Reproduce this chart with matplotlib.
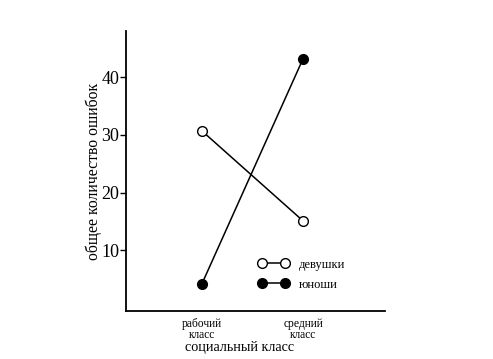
import matplotlib.pyplot as plt

# --- data ---
categories = ["рабочий\nкласс", "средний\nкласс"]
girls = [30.7, 15.1]
boys = [4.2, 43.2]
y_ticks = [10, 20, 30, 40]

plt.rcParams["font.family"] = ["Liberation Serif", "DejaVu Serif"]

fig = plt.figure(figsize=(4.93, 3.59), dpi=100)
ax = fig.add_axes([0.2556, 0.1337, 0.5254, 0.78])

x = list(range(len(categories)))
ax.plot(x, girls, color="black", linewidth=1.1, marker="o", markersize=7,
        markerfacecolor="white", markeredgecolor="black", markeredgewidth=1.0,
        label="девушки")
ax.plot(x, boys, color="black", linewidth=1.1, marker="o", markersize=7,
        markerfacecolor="black", markeredgecolor="black", label="юноши")

ax.set_xlim(-0.75, 1.81)
ax.set_ylim(-0.5, 48)
ax.set_xticks(x)
ax.set_xticklabels(categories, fontsize=8.3, linespacing=0.95)
ax.set_yticks(y_ticks)
ax.tick_params(axis="y", direction="out", length=4, width=1, labelsize=13, pad=1)
ax.tick_params(axis="x", length=0, pad=5)

for side in ["top", "right"]:
    ax.spines[side].set_visible(False)
for side in ["left", "bottom"]:
    ax.spines[side].set_linewidth(1.3)

# x label sits a bit left of the axes centre in the original
ax.set_xlabel("социальный класс", fontsize=10.2, va="center")
ax.xaxis.set_label_coords(0.44, -0.129)
ax.set_ylabel("общее количество ошибок", fontsize=11.3, labelpad=-1)

ax.legend(loc="center", bbox_to_anchor=(0.68, 0.13), frameon=False,
          numpoints=2, handlelength=2.44, handletextpad=0.8, fontsize=9,
          labelspacing=0.63)

fig.savefig("out.png", dpi=100)
